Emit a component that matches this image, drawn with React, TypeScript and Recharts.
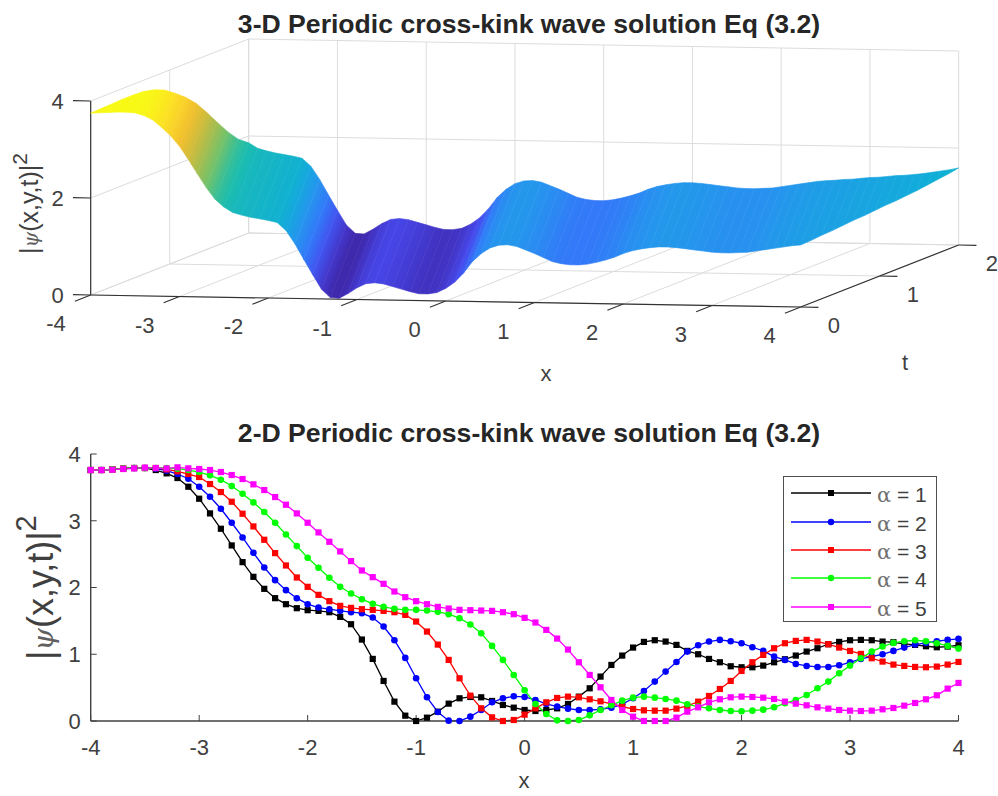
import { Legend, Line, LineChart, Scatter, ScatterChart, XAxis, YAxis } from "recharts";

const FONT = "'Liberation Sans', Arial, sans-serif";
const INK = "#404040";

// wave height along phase = x + 0.75 t, phase -4 .. 5.5 in steps of 0.1
const phaseStart = -4;
const waveSpeed = 0.75;
const profile = [
	3.75, 3.76, 3.77, 3.78, 3.78, 3.77, 3.72, 3.63, 3.48, 3.31,
	3.1, 2.83, 2.54, 2.26, 2.02, 1.86, 1.75, 1.7, 1.66, 1.63,
	1.6, 1.56, 1.4, 1.13, 0.81, 0.5, 0.2, 0.03, 0.02, 0.12,
	0.24, 0.33, 0.35, 0.33, 0.28, 0.23, 0.18, 0.14, 0.14, 0.17,
	0.26, 0.39, 0.58, 0.82, 0.99, 1.11, 1.17, 1.18, 1.15, 1.08,
	1.01, 0.93, 0.85, 0.81, 0.79, 0.79, 0.81, 0.85, 0.9, 0.96,
	1.04, 1.1, 1.14, 1.17, 1.19, 1.19, 1.18, 1.16, 1.14, 1.12,
	1.1, 1.09, 1.09, 1.1, 1.11, 1.14, 1.17, 1.2, 1.23, 1.26,
	1.28, 1.29, 1.31, 1.32, 1.34, 1.36, 1.37, 1.39, 1.41, 1.42,
	1.44, 1.46, 1.49, 1.52, 1.55, 1.59,
];

const parula = [
	[62, 38, 168], [71, 71, 235], [52, 118, 250], [38, 148, 238], [15, 175, 215],
	[30, 190, 170], [115, 194, 108], [180, 189, 71], [238, 186, 48], [253, 218, 40], [248, 250, 20],
];

const xValues = [-4, -3.9, -3.8, -3.7, -3.6, -3.5, -3.4, -3.3, -3.2, -3.1, -3, -2.9, -2.8, -2.7, -2.6, -2.5, -2.4, -2.3, -2.2, -2.1, -2, -1.9, -1.8, -1.7, -1.6, -1.5, -1.4, -1.3, -1.2, -1.1, -1, -0.9, -0.8, -0.7, -0.6, -0.5, -0.4, -0.3, -0.2, -0.1, 0, 0.1, 0.2, 0.3, 0.4, 0.5, 0.6, 0.7, 0.8, 0.9, 1, 1.1, 1.2, 1.3, 1.4, 1.5, 1.6, 1.7, 1.8, 1.9, 2, 2.1, 2.2, 2.3, 2.4, 2.5, 2.6, 2.7, 2.8, 2.9, 3, 3.1, 3.2, 3.3, 3.4, 3.5, 3.6, 3.7, 3.8, 3.9, 4];

const alpha1 = [
	3.76, 3.76, 3.77, 3.78, 3.79, 3.79, 3.76, 3.71, 3.64, 3.51,
	3.33, 3.11, 2.88, 2.63, 2.38, 2.16, 1.98, 1.84, 1.75, 1.69,
	1.66, 1.65, 1.63, 1.56, 1.45, 1.22, 0.93, 0.6, 0.29, 0.08,
	0, 0.05, 0.14, 0.26, 0.34, 0.36, 0.355, 0.3, 0.24, 0.2,
	0.165, 0.15, 0.165, 0.19, 0.255, 0.365, 0.49, 0.665, 0.84, 0.98,
	1.1, 1.185, 1.21, 1.19, 1.14, 1.05, 1, 0.93, 0.88, 0.82,
	0.805, 0.805, 0.83, 0.88, 0.925, 0.98, 1.04, 1.09, 1.15, 1.185,
	1.21, 1.215, 1.21, 1.19, 1.18, 1.155, 1.14, 1.12, 1.105, 1.115, 1.135,
];
const alpha2 = [
	3.76, 3.76, 3.77, 3.78, 3.79, 3.79, 3.78, 3.75, 3.7, 3.63,
	3.51, 3.36, 3.18, 2.97, 2.75, 2.52, 2.3, 2.11, 1.96, 1.84,
	1.75, 1.7, 1.675, 1.65, 1.63, 1.615, 1.55, 1.415, 1.21, 0.945,
	0.64, 0.355, 0.135, 0.005, 0, 0.065, 0.165, 0.28, 0.34, 0.37,
	0.36, 0.315, 0.255, 0.215, 0.185, 0.165, 0.165, 0.175, 0.2, 0.25,
	0.34, 0.45, 0.59, 0.74, 0.885, 1.04, 1.135, 1.19, 1.215, 1.195,
	1.165, 1.105, 1.05, 0.965, 0.915, 0.855, 0.825, 0.81, 0.81, 0.835,
	0.88, 0.93, 0.965, 1, 1.05, 1.1, 1.145, 1.17, 1.195, 1.215, 1.23,
];
const alpha3 = [
	3.76, 3.76, 3.77, 3.78, 3.79, 3.79, 3.79, 3.77, 3.74, 3.7,
	3.655, 3.55, 3.43, 3.285, 3.105, 2.915, 2.715, 2.515, 2.33, 2.15,
	2.01, 1.89, 1.795, 1.725, 1.695, 1.675, 1.665, 1.65, 1.63, 1.59,
	1.49, 1.34, 1.145, 0.915, 0.64, 0.38, 0.19, 0.055, 0, 0.015,
	0.095, 0.19, 0.28, 0.345, 0.365, 0.355, 0.325, 0.295, 0.255, 0.215,
	0.18, 0.16, 0.155, 0.155, 0.185, 0.225, 0.29, 0.375, 0.48, 0.6,
	0.75, 0.88, 0.99, 1.09, 1.165, 1.2, 1.215, 1.19, 1.15, 1.1,
	1.05, 1.005, 0.94, 0.89, 0.845, 0.825, 0.81, 0.805, 0.815, 0.845, 0.885,
];
const alpha4 = [
	3.76, 3.76, 3.77, 3.78, 3.79, 3.79, 3.79, 3.79, 3.78, 3.76,
	3.73, 3.68, 3.615, 3.52, 3.405, 3.275, 3.13, 2.97, 2.795, 2.62,
	2.445, 2.295, 2.145, 2.01, 1.91, 1.825, 1.755, 1.71, 1.68, 1.665,
	1.665, 1.655, 1.635, 1.6, 1.54, 1.445, 1.315, 1.125, 0.915, 0.69,
	0.46, 0.255, 0.105, 0.01, 0, 0.015, 0.085, 0.165, 0.235, 0.305,
	0.35, 0.365, 0.35, 0.33, 0.305, 0.25, 0.215, 0.19, 0.165, 0.15,
	0.145, 0.155, 0.17, 0.205, 0.265, 0.315, 0.39, 0.49, 0.59, 0.715,
	0.83, 0.94, 1.04, 1.115, 1.17, 1.195, 1.21, 1.195, 1.165, 1.125, 1.085,
];
const alpha5 = [
	3.76, 3.76, 3.765, 3.775, 3.785, 3.795, 3.79, 3.785, 3.8, 3.785,
	3.775, 3.76, 3.73, 3.685, 3.625, 3.545, 3.46, 3.355, 3.24, 3.11,
	2.97, 2.825, 2.685, 2.54, 2.395, 2.255, 2.155, 2.055, 1.94, 1.855,
	1.795, 1.75, 1.71, 1.685, 1.665, 1.66, 1.655, 1.65, 1.63, 1.6,
	1.545, 1.475, 1.365, 1.235, 1.07, 0.88, 0.69, 0.505, 0.315, 0.165,
	0.065, 0, 0, 0, 0.05, 0.14, 0.205, 0.28, 0.325, 0.355,
	0.365, 0.36, 0.35, 0.33, 0.29, 0.26, 0.235, 0.205, 0.185, 0.165,
	0.155, 0.15, 0.155, 0.175, 0.195, 0.23, 0.27, 0.325, 0.385, 0.485, 0.57,
];

const seriesNames = ["α = 1", "α = 2", "α = 3", "α = 4", "α = 5"];
const seriesColors = ["#000000", "#0000ff", "#ff0000", "#00ff00", "#ff00ff"];
const seriesMarkers = ["square", "circle", "square", "circle", "square"];
const seriesValues = [alpha1, alpha2, alpha3, alpha4, alpha5];

const lineData = xValues.map((x, i) => {
	const row: Record<string, number> = { x };
	seriesNames.forEach((name, s) => {
		row[name] = seriesValues[s][i];
	});
	return row;
});

const axisTicksX = [-4, -3, -2, -1, 0, 1, 2, 3, 4];
const axisTicksT = [0, 1, 2];
const axisTicksZ = [0, 2, 4];
const axisTicksY = [0, 1, 2, 3, 4];

// 3-D view of the top panel, orthographic
const project = (x: number, t: number, z: number) => ({
	sx: 90.7 + (x + 4) * 88.75 + t * 79,
	sy: 295 + (x + 4) * 1.5 - t * 31 - z * 48.5,
});

const surfaceColor = (z: number) => {
	const pos = Math.min(0.999, Math.max(0, z / 3.78)) * (parula.length - 1);
	const i = Math.floor(pos);
	const f = pos - i;
	const c = parula[i].map((v, k) => Math.round(v + (parula[i + 1][k] - v) * f));
	return `rgb(${c[0]},${c[1]},${c[2]})`;
};

const isoLine = (phase: number, z: number) => {
	const from = Math.max(0, (phase - 4) / waveSpeed);
	const to = Math.min(2, (phase + 4) / waveSpeed);
	return [project(phase - waveSpeed * from, from, z), project(phase - waveSpeed * to, to, z)];
};

// unit normal of the iso-phase lines, so the shading runs across each strip
const isoDx = 79 - waveSpeed * 88.75;
const isoDy = -31 - waveSpeed * 1.5;
const isoLen = Math.hypot(isoDx, isoDy);
const normalX = -isoDy / isoLen;
const normalY = isoDx / isoLen;

const strips = profile.slice(1).map((z, i) => {
	const a = isoLine(phaseStart + i * 0.1, profile[i]);
	const b = isoLine(phaseStart + (i + 1) * 0.1, z);
	const ax = (a[0].sx + a[1].sx) / 2;
	const ay = (a[0].sy + a[1].sy) / 2;
	const bx = (b[0].sx + b[1].sx) / 2;
	const by = (b[0].sy + b[1].sy) / 2;
	const along = (bx - ax) * normalX + (by - ay) * normalY;
	return {
		from: surfaceColor(profile[i]),
		to: surfaceColor(z),
		x1: ax,
		y1: ay,
		x2: ax + normalX * along,
		y2: ay + normalY * along,
		points: [a[0], a[1], b[1], b[0], a[0]],
	};
});

const GRID = "#dcdcdc";
const AXIS = "#333333";
const gridSegments = [
	...axisTicksX.map((x) => [project(x, 0, 0), project(x, 2, 0)]),
	...axisTicksX.map((x) => [project(x, 2, 0), project(x, 2, 4)]),
	...axisTicksZ.map((z) => [project(-4, 2, z), project(4, 2, z)]),
	...axisTicksZ.map((z) => [project(-4, 0, z), project(-4, 2, z)]),
	...axisTicksT.map((t) => [project(-4, t, 0), project(4, t, 0)]),
	...axisTicksT.map((t) => [project(-4, t, 0), project(-4, t, 4)]),
];
const axisSegments = [
	[project(-4, 0, 0), project(4, 0, 0)],
	[project(4, 0, 0), project(4, 2, 0)],
	[project(-4, 0, 0), project(-4, 0, 4)],
	...axisTicksX.map((x) => [project(x, 0, 0), project(x, -0.2, 0)]),
	...axisTicksT.map((t) => [project(4, t, 0), project(4.2, t, 0)]),
	...axisTicksZ.map((z) => [project(-4, 0, z), project(-4.2, 0, z)]),
];

const noMark = () => <g />;

const textStyle = { fontFamily: FONT, fill: INK };

const PsiLabel = ({ x, y, size, supSize, raise }: { x: number; y: number; size: number; supSize: number; raise: number }) => (
	<text x={x} y={y} transform={`rotate(-90 ${x} ${y})`} fontSize={size} {...textStyle}>
		|<tspan fontFamily="'DejaVu Serif', serif" fontStyle="italic" fontSize={size * 0.8} fill="#606060">ψ</tspan>(x,y,t)|
		<tspan dy={-raise} fontSize={supSize}>2</tspan>
	</text>
);

const Title = ({ y, children }: { y: number; children: string }) => (
	<text x={529} y={y} textAnchor="middle" fontSize={26.6} fontWeight="bold" fontFamily={FONT} fill="#262626">
		{children}
	</text>
);

const Marker = ({ kind, cx, cy, color, size }: { kind: string; cx: number; cy: number; color: string; size: number }) =>
	kind === "square" ? (
		<rect x={cx - size / 2} y={cy - size / 2} width={size} height={size} fill={color} />
	) : (
		<circle cx={cx} cy={cy} r={size / 2 + 0.2} fill={color} />
	);

const renderLegend = () => (
	<div style={{ boxSizing: "border-box", width: 154, height: 146, border: "1.3px solid #505050", background: "#fff", padding: "2px 0 0 7px" }}>
		{seriesNames.map((name, s) => (
			<div key={name} style={{ height: 28.4, display: "flex", alignItems: "center" }}>
				<svg width={80} height={16} style={{ marginRight: 6 }}>
					<line x1={0} x2={80} y1={8} y2={8} stroke={seriesColors[s]} strokeWidth={1.3} />
					<Marker kind={seriesMarkers[s]} cx={40} cy={8} color={seriesColors[s]} size={6} />
				</svg>
				<span style={{ fontFamily: FONT, fontSize: 21, color: INK, whiteSpace: "pre", position: "relative", top: 2 }}>
					<span style={{ fontFamily: "'DejaVu Serif', serif", color: "#707070" }}>α</span>
					{name.slice(1)}
				</span>
			</div>
		))}
	</div>
);

export default function App() {
	return (
		<div style={{ position: "absolute", left: 0, top: 0, width: 998, height: 796, background: "#fff" }}>
			<div style={{ position: "absolute", left: 0, top: 0 }}>
				<ScatterChart width={998} height={410} margin={{ top: 0, right: 0, bottom: 0, left: 0 }}>
					<defs>
						{strips.map((s, i) => (
							<linearGradient key={i} id={`strip${i}`} gradientUnits="userSpaceOnUse" x1={s.x1} y1={s.y1} x2={s.x2} y2={s.y2}>
								<stop offset="0" stopColor={s.from} />
								<stop offset="1" stopColor={s.to} />
							</linearGradient>
						))}
					</defs>
					<XAxis type="number" dataKey="sx" domain={[0, 998]} hide />
					<YAxis type="number" dataKey="sy" domain={[0, 410]} reversed hide />
					{gridSegments.map((seg, i) => (
						<Scatter key={`g${i}`} data={seg} line={{ stroke: GRID, strokeWidth: 1 }} shape={noMark} isAnimationActive={false} />
					))}
					{axisSegments.map((seg, i) => (
						<Scatter key={`a${i}`} data={seg} line={{ stroke: AXIS, strokeWidth: 1.2 }} shape={noMark} isAnimationActive={false} />
					))}
					{strips.map((s, i) => (
						<Scatter
							key={`s${i}`}
							data={s.points}
							line={{ stroke: `url(#strip${i})`, fill: `url(#strip${i})`, strokeWidth: 0.6 }}
							shape={noMark}
							isAnimationActive={false}
						/>
					))}
					<Title y={32.5}>3-D Periodic cross-kink wave solution Eq (3.2)</Title>
					{axisTicksX.map((x) => {
						const p = project(x, 0, 0);
						return (
							<text key={x} x={p.sx - 25} y={p.sy + 36} textAnchor="end" fontSize={22} {...textStyle}>
								{x}
							</text>
						);
					})}
					{axisTicksT.map((t) => {
						const p = project(4, t, 0);
						return (
							<text key={t} x={p.sx + 27} y={p.sy + 26} fontSize={22} {...textStyle}>
								{t}
							</text>
						);
					})}
					{axisTicksZ.map((z) => {
						const p = project(-4, 0, z);
						return (
							<text key={z} x={p.sx - 27} y={p.sy + 8} textAnchor="end" fontSize={22} {...textStyle}>
								{z}
							</text>
						);
					})}
					<text x={546} y={381} textAnchor="middle" fontSize={22} {...textStyle}>x</text>
					<text x={905} y={370} textAnchor="middle" fontSize={22} {...textStyle}>t</text>
					<PsiLabel x={38} y={254} size={25} supSize={21} raise={11} />
				</ScatterChart>
			</div>
			<div style={{ position: "absolute", left: 0, top: 0 }}>
				<LineChart width={998} height={796} data={lineData} margin={{ top: 454, right: 39.5, bottom: 0, left: 0 }}>
					<XAxis
						type="number"
						dataKey="x"
						domain={[-4, 4]}
						ticks={axisTicksX}
						height={75}
						tickSize={-6}
						tickMargin={24}
						stroke={INK}
						axisLine={{ strokeWidth: 1.4 }}
						tick={{ fill: INK, fontSize: 22, fontFamily: FONT }}
					/>
					<YAxis
						type="number"
						domain={[0, 4]}
						ticks={axisTicksY}
						width={90.7}
						tickSize={-6}
						tickMargin={16}
						stroke={INK}
						axisLine={{ strokeWidth: 1.4 }}
						tick={{ fill: INK, fontSize: 22, fontFamily: FONT }}
					/>
					{seriesNames.map((name, s) => (
						<Line
							key={name}
							type="linear"
							dataKey={name}
							name={name}
							stroke={seriesColors[s]}
							strokeWidth={1.3}
							isAnimationActive={false}
							dot={(props: any) => (
								<Marker key={props.index} kind={seriesMarkers[s]} cx={props.cx} cy={props.cy} color={seriesColors[s]} size={6.2} />
							)}
						/>
					))}
					<Legend layout="vertical" align="center" verticalAlign="middle" content={renderLegend} wrapperStyle={{ left: 783, top: 476, width: 154, height: 146 }} />
					<Title y={441.5}>2-D Periodic cross-kink wave solution Eq (3.2)</Title>
					<text x={524} y={788} textAnchor="middle" fontSize={22} {...textStyle}>x</text>
					<PsiLabel x={53} y={660} size={36} supSize={29} raise={17} />
				</LineChart>
			</div>
		</div>
	);
}
